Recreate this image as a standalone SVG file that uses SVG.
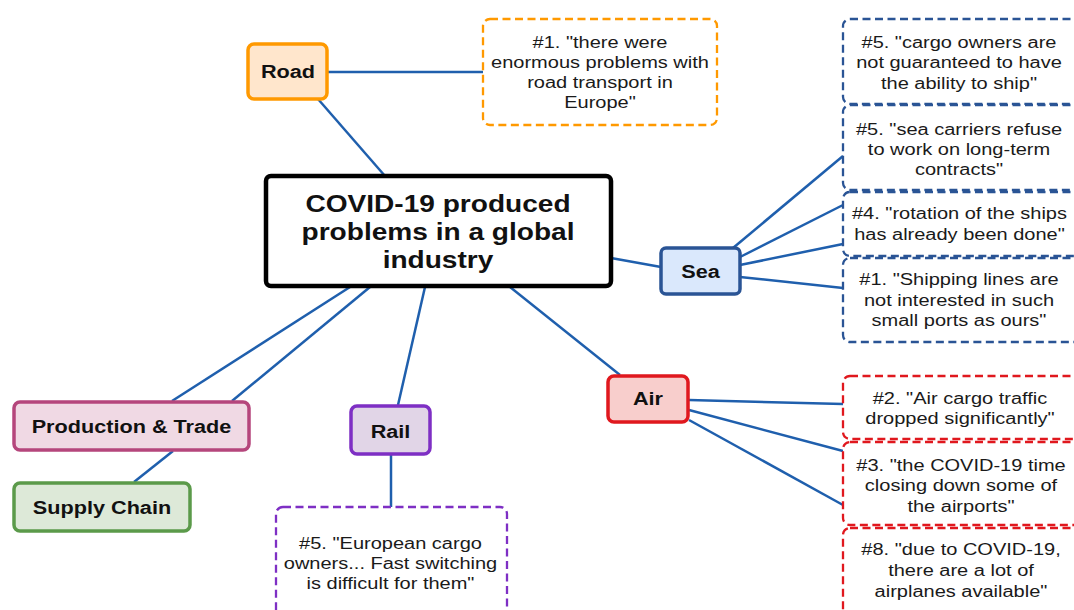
<svg xmlns="http://www.w3.org/2000/svg" width="1074" height="610" viewBox="0 0 1074 610">
  <style>
    .edge { stroke: #1f5fad; stroke-width: 2.5; fill: none; }
    .topic { stroke-width: 3.5; }
    .quote { fill: #ffffff; stroke-width: 2.3; stroke-dasharray: 8 4.5; }
    .lbl { font-family: "Liberation Sans", Arial, sans-serif; font-weight: bold; font-size: 19px; fill: #111; text-anchor: middle; }
    .qt { font-family: "Liberation Sans", Arial, sans-serif; font-size: 16px; fill: #1a1a1a; text-anchor: middle; }
    .title { font-family: "Liberation Sans", Arial, sans-serif; font-weight: bold; font-size: 24px; fill: #111; text-anchor: middle; }
  </style>
  <rect width="1074" height="610" fill="#ffffff"/>

  <!-- connectors -->
  <g id="connectors">
    <line class="edge" x1="385" y1="176" x2="318" y2="99"/>
    <line class="edge" x1="328" y1="72" x2="483" y2="72"/>
    <line class="edge" x1="611" y1="258" x2="661" y2="267"/>
    <line class="edge" x1="733" y1="248" x2="843" y2="156"/>
    <line class="edge" x1="740" y1="257" x2="843" y2="205"/>
    <line class="edge" x1="740" y1="265" x2="843" y2="244"/>
    <line class="edge" x1="740" y1="277" x2="843" y2="288"/>
    <line class="edge" x1="510" y1="287" x2="620" y2="375"/>
    <line class="edge" x1="689" y1="400" x2="843" y2="404"/>
    <line class="edge" x1="689" y1="410" x2="843" y2="451"/>
    <line class="edge" x1="689" y1="420" x2="843" y2="505"/>
    <line class="edge" x1="425" y1="287" x2="398" y2="405"/>
    <line class="edge" x1="391" y1="455" x2="391" y2="507"/>
    <line class="edge" x1="350" y1="287" x2="172" y2="401"/>
    <line class="edge" x1="370" y1="287" x2="232" y2="401"/>
    <line class="edge" x1="173" y1="451" x2="134" y2="482"/>
  </g>

  <!-- central topic -->
  <g id="central">
    <rect x="266" y="176" width="345" height="110" rx="5" fill="#ffffff" stroke="#000000" stroke-width="4.5"/>
    <g transform="translate(438 0) scale(1.17 1)">
      <text class="title" x="0" y="212">COVID-19 produced</text>
      <text class="title" x="0" y="240">problems in a global</text>
      <text class="title" x="0" y="268">industry</text>
    </g>
  </g>

  <!-- Road branch -->
  <g id="road">
    <rect class="topic" x="248" y="44" width="79" height="55" rx="6" fill="#ffe6cc" stroke="#ff9900"/>
    <text class="lbl" transform="translate(288 0) scale(1.14 1)" x="0" y="78.5">Road</text>
  </g>
  <g id="road-q1">
    <rect class="quote" x="483" y="19" width="234" height="106" rx="7" stroke="#ff9900"/>
    <g transform="translate(600 0) scale(1.25 1)">
      <text class="qt" x="0" y="48">#1. "there were</text>
      <text class="qt" x="0" y="68">enormous problems with</text>
      <text class="qt" x="0" y="88">road transport in</text>
      <text class="qt" x="0" y="108">Europe"</text>
    </g>
  </g>

  <!-- Sea branch -->
  <g id="sea">
    <rect class="topic" x="661" y="248" width="79" height="46" rx="5" fill="#dae8fc" stroke="#2a5495"/>
    <text class="lbl" transform="translate(700.5 0) scale(1.14 1)" x="0" y="278">Sea</text>
  </g>
  <g id="sea-q1">
    <rect class="quote" x="843" y="19" width="240" height="85" rx="7" stroke="#2a5495"/>
    <g transform="translate(959 0) scale(1.25 1)">
      <text class="qt" x="0" y="48">#5. "cargo owners are</text>
      <text class="qt" x="0" y="68">not guaranteed to have</text>
      <text class="qt" x="0" y="89">the ability to ship"</text>
    </g>
  </g>
  <g id="sea-q2">
    <rect class="quote" x="843" y="105" width="240" height="85" rx="7" stroke="#2a5495"/>
    <g transform="translate(959 0) scale(1.25 1)">
      <text class="qt" x="0" y="135">#5. "sea carriers refuse</text>
      <text class="qt" x="0" y="155">to work on long-term</text>
      <text class="qt" x="0" y="175">contracts"</text>
    </g>
  </g>
  <g id="sea-q3">
    <rect class="quote" x="843" y="192" width="240" height="64" rx="7" stroke="#2a5495"/>
    <g transform="translate(959.5 0) scale(1.25 1)">
      <text class="qt" x="0" y="219">#4. "rotation of the ships</text>
      <text class="qt" x="0" y="240">has already been done"</text>
    </g>
  </g>
  <g id="sea-q4">
    <rect class="quote" x="843" y="258" width="240" height="84" rx="7" stroke="#2a5495"/>
    <g transform="translate(959 0) scale(1.25 1)">
      <text class="qt" x="0" y="285">#1. "Shipping lines are</text>
      <text class="qt" x="0" y="306">not interested in such</text>
      <text class="qt" x="0" y="326">small ports as ours"</text>
    </g>
  </g>

  <!-- Air branch -->
  <g id="air">
    <rect class="topic" x="608" y="376" width="80" height="46" rx="6" fill="#f8cecc" stroke="#e0181e"/>
    <text class="lbl" transform="translate(648 0) scale(1.14 1)" x="0" y="405">Air</text>
  </g>
  <g id="air-q1">
    <rect class="quote" x="843" y="376" width="240" height="63" rx="7" stroke="#e0181e"/>
    <g transform="translate(960 0) scale(1.25 1)">
      <text class="qt" x="0" y="404">#2. "Air cargo traffic</text>
      <text class="qt" x="0" y="424">dropped significantly"</text>
    </g>
  </g>
  <g id="air-q2">
    <rect class="quote" x="843" y="442" width="240" height="83" rx="7" stroke="#e0181e"/>
    <g transform="translate(961 0) scale(1.25 1)">
      <text class="qt" x="0" y="471">#3. "the COVID-19 time</text>
      <text class="qt" x="0" y="491">closing down some of</text>
      <text class="qt" x="0" y="512">the airports"</text>
    </g>
  </g>
  <g id="air-q3">
    <rect class="quote" x="843" y="528" width="240" height="90" rx="7" stroke="#e0181e"/>
    <g transform="translate(961 0) scale(1.25 1)">
      <text class="qt" x="0" y="555">#8. "due to COVID-19,</text>
      <text class="qt" x="0" y="576">there are a lot of</text>
      <text class="qt" x="0" y="597">airplanes available"</text>
    </g>
  </g>

  <!-- Rail branch -->
  <g id="rail">
    <rect class="topic" x="351" y="406" width="79" height="48" rx="6" fill="#e1d5e7" stroke="#7e2fc4"/>
    <text class="lbl" transform="translate(390.5 0) scale(1.14 1)" x="0" y="438">Rail</text>
  </g>
  <g id="rail-q1">
    <rect class="quote" x="276" y="507" width="231" height="110" rx="7" stroke="#7e2fc4"/>
    <g transform="translate(390.5 0) scale(1.25 1)">
      <text class="qt" x="0" y="549">#5. "European cargo</text>
      <text class="qt" x="0" y="569">owners... Fast switching</text>
      <text class="qt" x="0" y="589">is difficult for them"</text>
    </g>
  </g>

  <!-- Production & Trade branch -->
  <g id="production-trade">
    <rect class="topic" x="14" y="402" width="235" height="48" rx="6" fill="#f0d9e4" stroke="#b5467c"/>
    <text class="lbl" transform="translate(131.5 0) scale(1.14 1)" x="0" y="433">Production &amp; Trade</text>
  </g>
  <g id="supply-chain">
    <rect class="topic" x="14" y="483" width="176" height="48" rx="6" fill="#dde9d8" stroke="#5b9a4a"/>
    <text class="lbl" transform="translate(102 0) scale(1.14 1)" x="0" y="514">Supply Chain</text>
  </g>
</svg>
